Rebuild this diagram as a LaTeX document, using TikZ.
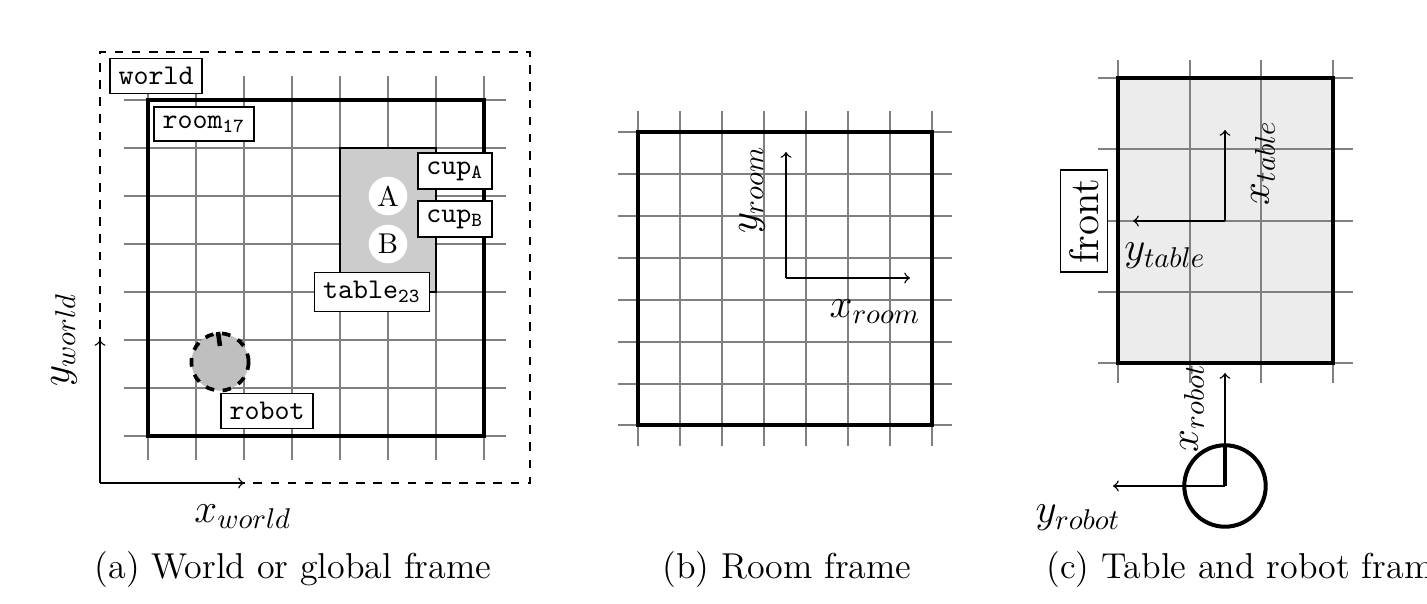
\documentclass[tikz,border=0pt]{standalone}
\begin{document}
\begin{tikzpicture}[x=0.35pt,y=-0.35pt,
  grid/.style={gray,line width=0.6pt},
  room/.style={line width=1.6pt},
  lbl/.style={draw,fill=white,font=\ttfamily\normalsize,inner sep=3pt,line width=0.5pt},
  ax/.style={->,line width=0.5pt},
  mlbl/.style={font=\Large},
  cup/.style={circle,fill=white,minimum size=13.5pt,inner sep=0pt},
  captxt/.style={font=\large,scale=1.05}]
\useasboundingbox (0,0) rectangle (1427,604);
% (a)
\foreach \x in {148,196,...,484} \draw[grid] (\x,76) -- (\x,460);
\foreach \y in {100,148,...,436} \draw[grid] (124,\y) -- (506,\y);
\draw[dashed,line width=0.5pt] (100,483) -- (100,52) -- (530,52) -- (530,483) -- (100,483);
\fill[gray!40] (340,148) rectangle (436,292);
\draw[line width=0.5pt] (340,292) -- (340,148) -- (436,148) -- (436,292) -- (340,292);
\draw[room] (148,100) rectangle (484,436);
\node[cup] (A) at (388,196) {A};
\node[cup] (B) at (388,244) {B};
\node[lbl] (world) at (156,76) {world};
\node[lbl] (room17) at (204,124) {room$_{\mathtt{17}}$};
\node[lbl] (cupA) at (455,171) {cup$_{\mathtt{A}}$};
\node[lbl] (cupB) at (455,219) {cup$_{\mathtt{B}}$};
\node[lbl] (table) at (372,292) {table$_{\mathtt{23}}$};
\node[circle,draw,dashed,fill=gray!50,line width=1.3pt,minimum size=20pt,inner sep=0pt] (rob) at (220,362) {};
\draw[line width=1.6pt] (rob.center) ++(0,-16) -- (218,332);
\node[lbl] (robot) at (267,411) {robot};
\coordinate (wo) at (100,483);
\coordinate (wx) at (244,483);
\coordinate (wy) at (100,340);
\draw[ax] (wo) -- (wx);
\draw[ax] (wo) -- (wy);
\node[mlbl] (xw) at (243,517) {$x_{world}$};
\node[mlbl,rotate=90] (yw) at (64,340) {$y_{world}$};
\node[captxt] (ca) at (293,570) {(a) World or global frame};
% (b)
\foreach \x in {638,680,...,932} \draw[grid] (\x,111) -- (\x,446);
\foreach \y in {132,174,216,258,300,342,384,425} \draw[grid] (618,\y) -- (952,\y);
\draw[room] (638,132) rectangle (932,425);
\coordinate (ro) at (786,278);
\coordinate (rx) at (910,278);
\coordinate (ry) at (786,152);
\draw[ax] (ro) -- (rx);
\draw[ax] (ro) -- (ry);
\node[mlbl] (xr) at (875,312) {$x_{room}$};
\node[mlbl,rotate=90] (yr) at (752,190) {$y_{room}$};
\node[captxt] (cb) at (787,570) {(b) Room frame};
% (c)
\fill[gray!15] (1118,78) rectangle (1333,363);
\foreach \x in {1118,1190,1261,1333} \draw[grid] (\x,60) -- (\x,383);
\foreach \y in {78,149,221,292,363} \draw[grid] (1098,\y) -- (1353,\y);
\draw[room] (1118,78) rectangle (1333,363);
\coordinate (to) at (1225,221);
\coordinate (tx) at (1225,130);
\coordinate (ty) at (1133,221);
\draw[ax] (to) -- (tx);
\draw[ax] (to) -- (ty);
\node[draw,fill=white,rotate=90,font=\Large,inner sep=3pt,line width=0.5pt] (front) at (1084,221) {front};
\node[mlbl,rotate=90] (xt) at (1263,163) {$x_{table}$};
\node[mlbl] (yt) at (1165,256) {$y_{table}$};
\node[circle,draw,line width=1.4pt,minimum size=28.5pt,inner sep=0pt] (rc) at (1225,486) {};
\draw[line width=1.6pt] (rc.center) -- (1225,445);
\coordinate (rbx) at (1225,373);
\coordinate (rby) at (1113,486);
\draw[ax] (rc.center) -- (rbx);
\draw[ax] (rc.center) -- (rby);
\node[mlbl,rotate=90] (xrb) at (1192,408) {$x_{robot}$};
\node[mlbl] (yrb) at (1078,518) {$y_{robot}$};
\node[captxt,anchor=west] (cc) at (1036,570) {(c) Table and robot frame};
\end{tikzpicture}
\end{document}
